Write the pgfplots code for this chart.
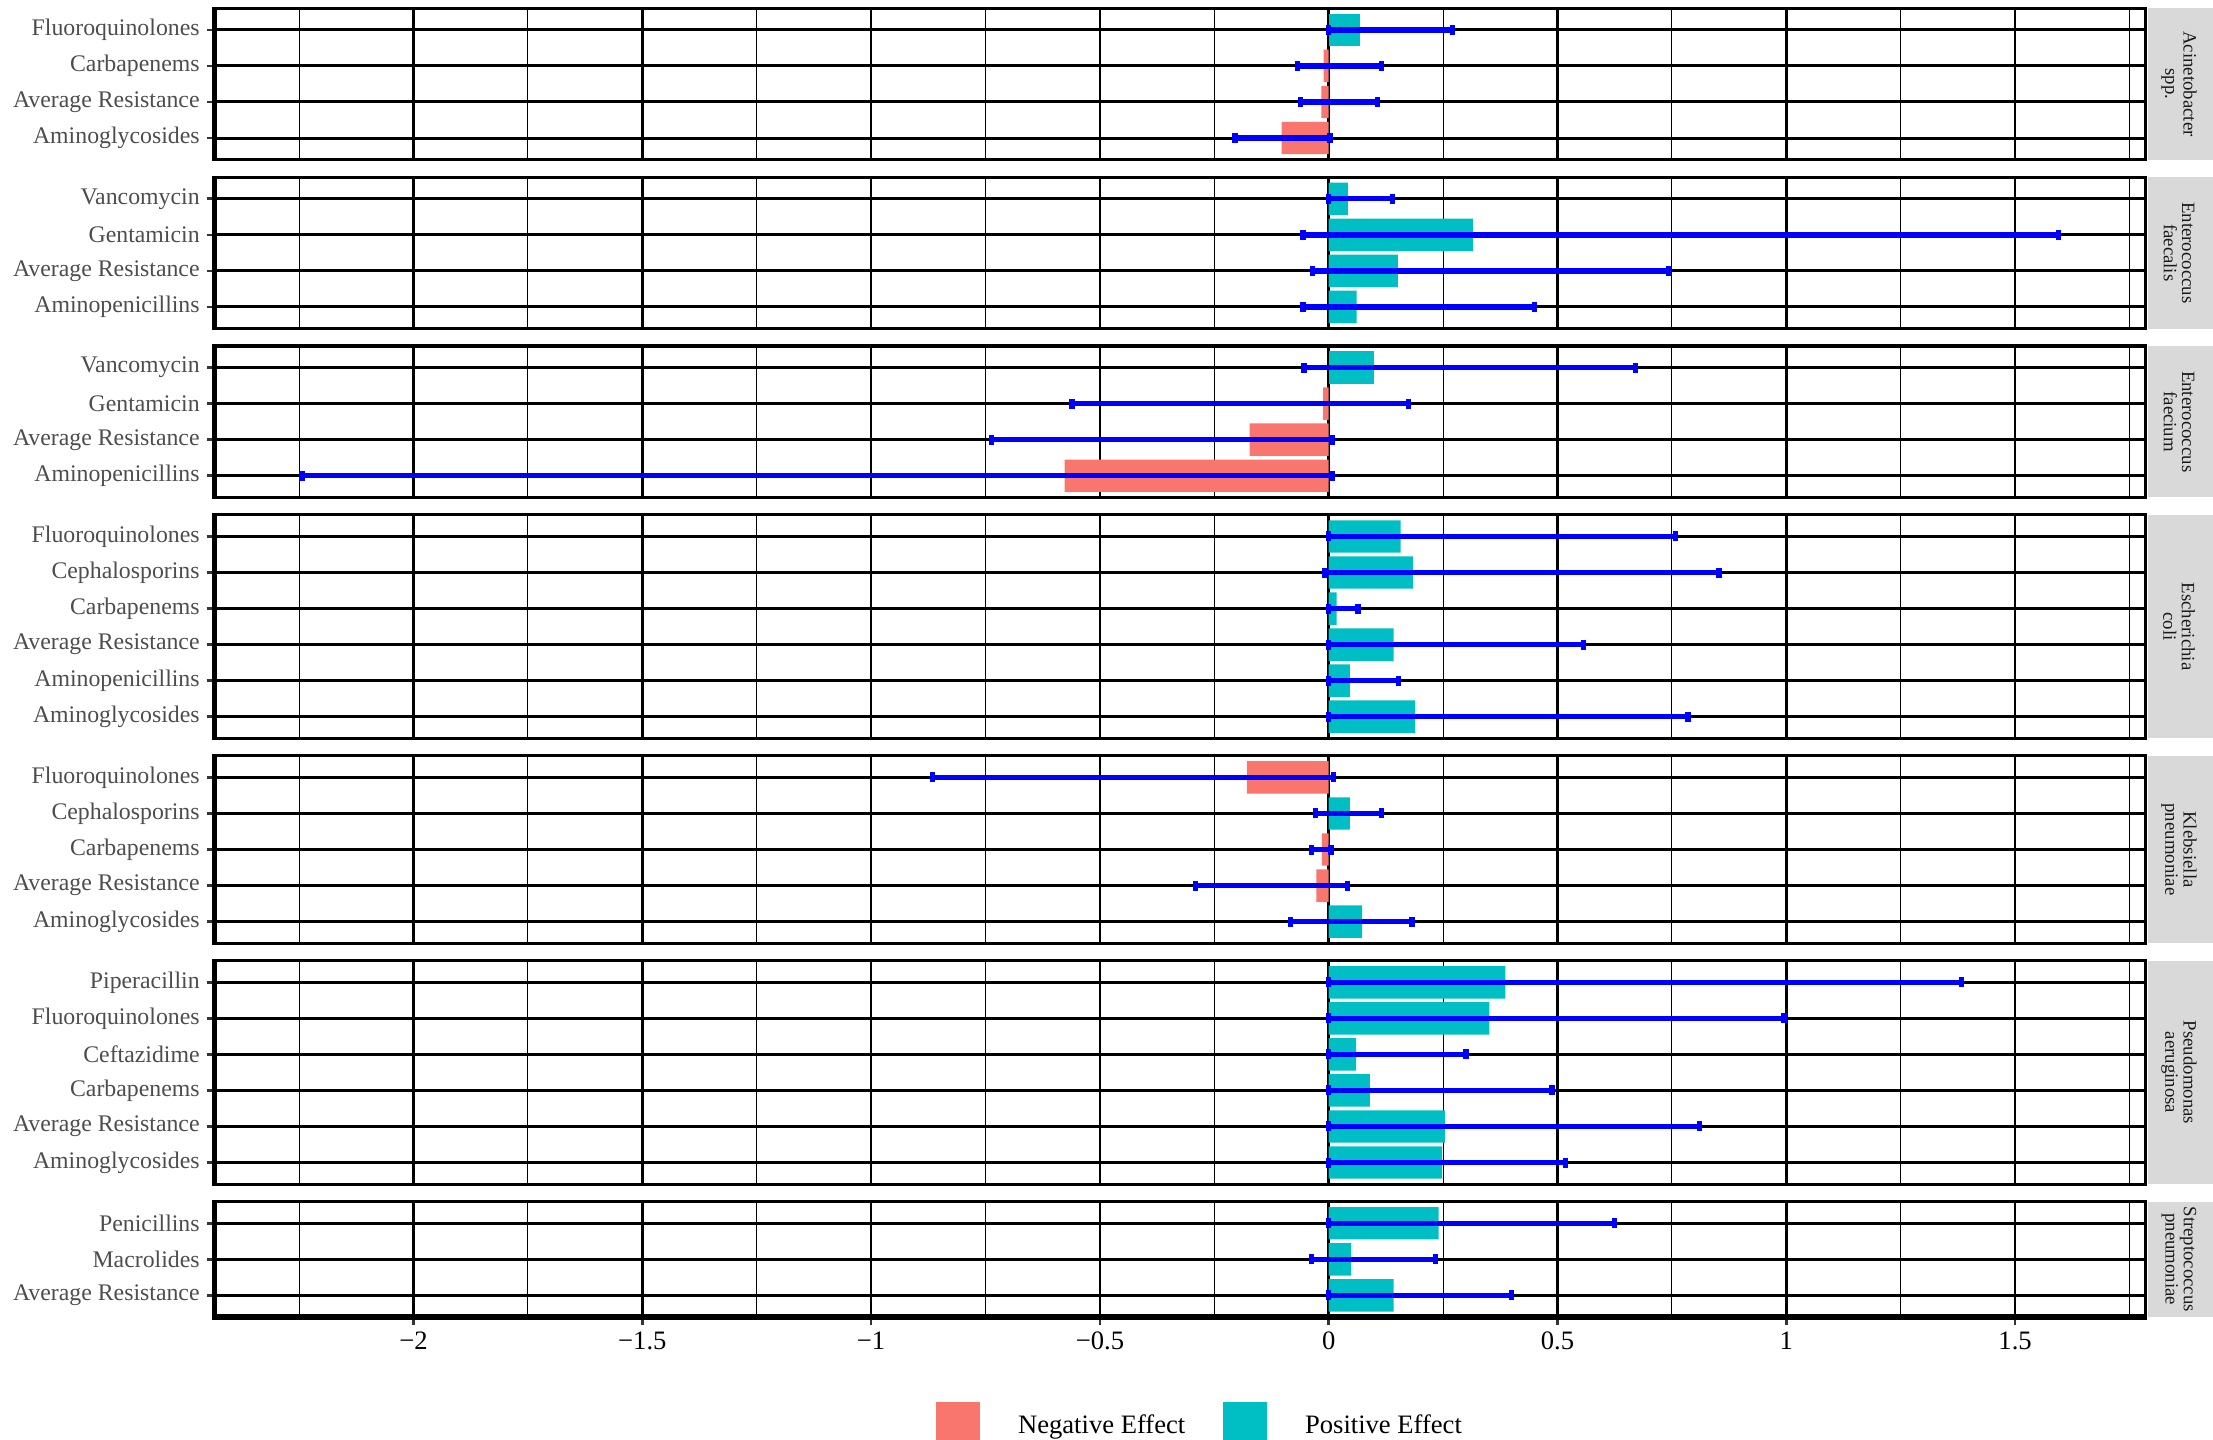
\documentclass[border=0pt]{standalone}
\usepackage{fontspec}
\setmainfont{Liberation Serif}
\usepackage{pgfplots}
\usepackage{pgfplotstable}
\pgfplotsset{compat=1.18}

\definecolor{negc}{HTML}{F8766D}
\definecolor{posc}{HTML}{00BFC4}
\definecolor{errc}{HTML}{0000FF}
\definecolor{stripc}{HTML}{D9D9D9}
\definecolor{striptext}{HTML}{1A1A1A}
\definecolor{labc}{HTML}{4D4D4D}
\definecolor{tickc}{HTML}{333333}

\newcommand\ylabfont{\fontsize{11.9}{13}\selectfont}
\newcommand\xtickfont{\fontsize{13.3}{15}\selectfont}
\newcommand\stripfont{\fontsize{9.4}{9.2}\selectfont}

% y = position (1 = bottom), val = effect, lo/hi = interval
\pgfplotstableread{
y val lo hi
4 0.068 0.000 0.271
3 -0.011 -0.068 0.116
2 -0.016 -0.061 0.106
1 -0.103 -0.205 0.003
}\tAcin
\pgfplotstableread{
y val lo hi
4 0.042 0.000 0.140
3 0.315 -0.056 1.594
2 0.151 -0.035 0.742
1 0.061 -0.056 0.449
}\tEfcl
\pgfplotstableread{
y val lo hi
4 0.100 -0.054 0.671
3 -0.012 -0.561 0.175
2 -0.173 -0.737 0.007
1 -0.577 -2.244 0.007
}\tEfcm
\pgfplotstableread{
y val lo hi
6 0.157 0.000 0.757
5 0.184 -0.010 0.853
4 0.017 0.000 0.064
3 0.142 0.000 0.556
2 0.046 0.000 0.152
1 0.189 0.000 0.785
}\tEcol
\pgfplotstableread{
y val lo hi
5 -0.179 -0.866 0.010
4 0.046 -0.029 0.115
3 -0.015 -0.037 0.005
2 -0.027 -0.292 0.041
1 0.073 -0.083 0.182
}\tKpne
\pgfplotstableread{
y val lo hi
6 0.386 0.000 1.383
5 0.351 0.000 0.995
4 0.060 0.000 0.300
3 0.090 0.000 0.488
2 0.254 0.000 0.810
1 0.248 0.000 0.517
}\tPaer
\pgfplotstableread{
y val lo hi
3 0.240 0.000 0.625
2 0.049 -0.037 0.234
1 0.142 0.000 0.400
}\tSpne

\pgfplotsset{
  panel/.style={
    scale only axis, width=965.5pt,
    xmin=-2.435, xmax=1.785,
    xtick={-2,-1.5,-1,-0.5,0,0.5,1,1.5},
    minor xtick={-2.25,-1.75,-1.25,-0.75,-0.25,0.25,0.75,1.25,1.75},
    xmajorgrids=true, xminorgrids=true, ymajorgrids=true,
    major x grid style={line width=1.3pt, black},
    minor x grid style={line width=0.55pt, black},
    major y grid style={line width=1.5pt, black},
    axis line style={line width=1.6pt, black},
    tick pos=left, tick align=outside,
    major tick length=3.9pt, minor tick length=0pt,
    ytick style={line width=1.3pt, color=tickc},
    yticklabel style={font=\ylabfont, text=labc},
    anchor=south west,
    clip=false,
  },
  inner/.style={xticklabels={}, xtick style={draw=none}},
}

\newcommand\drawpanel[1]{%
  \addplot[xbar, bar width=0.9, bar shift=0pt, fill=negc, draw=none,
    restrict x to domain=-10:0, forget plot] table[x=val, y=y] {#1};
  \addplot[xbar, bar width=0.9, bar shift=0pt, fill=posc, draw=none,
    restrict x to domain=0:10, forget plot] table[x=val, y=y] {#1};
  \addplot[draw=none, mark=none, forget plot,
    error bars/.cd, x dir=both, x explicit,
    error bar style={draw=errc, line width=2.7pt},
    error mark=|,
    error mark options={draw=errc, line width=2.6pt, mark size=2.5pt}]
    table[x expr={(\thisrow{lo}+\thisrow{hi})/2}, y=y,
          x error expr={(\thisrow{hi}-\thisrow{lo})/2}] {#1};
  \draw[line width=2.7pt, black, shorten <=-0.8pt, shorten >=-0.8pt]
    (rel axis cs:0,0) -- (rel axis cs:0,1);
}

\newcommand\strip[3]{% bottom, top, text
  \fill[stripc] (1074pt,#1) rectangle (1106.5pt,#2);
  \node[rotate=-90, align=center, font=\stripfont, text=striptext, inner sep=0pt]
    at (1089.5pt,{(#1+#2)/2}) {#3};
}

\begin{document}
\begin{tikzpicture}
\useasboundingbox (0,0) rectangle (1106.5pt,720pt);

% Acinetobacter spp.
\begin{axis}[panel, inner, at={(107.25pt,640.17pt)}, height=75.68pt,
  ymin=0.4, ymax=4.6, ytick={1,2,3,4},
  yticklabels={Aminoglycosides,Average Resistance,Carbapenems,Fluoroquinolones}]
\drawpanel{\tAcin}
\end{axis}

% Enterococcus faecalis
\begin{axis}[panel, inner, at={(107.25pt,555.74pt)}, height=75.68pt,
  ymin=0.4, ymax=4.6, ytick={1,2,3,4},
  yticklabels={Aminopenicillins,Average Resistance,Gentamicin,Vancomycin}]
\drawpanel{\tEfcl}
\end{axis}

% Enterococcus faecium
\begin{axis}[panel, inner, at={(107.25pt,471.31pt)}, height=75.68pt,
  ymin=0.4, ymax=4.6, ytick={1,2,3,4},
  yticklabels={Aminopenicillins,Average Resistance,Gentamicin,Vancomycin}]
\drawpanel{\tEfcm}
\end{axis}

% Escherichia coli
\begin{axis}[panel, inner, at={(107.25pt,350.84pt)}, height=111.72pt,
  ymin=0.4, ymax=6.6, ytick={1,2,3,4,5,6},
  yticklabels={Aminoglycosides,Aminopenicillins,Average Resistance,Carbapenems,Cephalosporins,Fluoroquinolones}]
\drawpanel{\tEcol}
\end{axis}

% Klebsiella pneumoniae
\begin{axis}[panel, inner, at={(107.25pt,248.39pt)}, height=93.70pt,
  ymin=0.4, ymax=5.6, ytick={1,2,3,4,5},
  yticklabels={Aminoglycosides,Average Resistance,Carbapenems,Cephalosporins,Fluoroquinolones}]
\drawpanel{\tKpne}
\end{axis}

% Pseudomonas aeruginosa
\begin{axis}[panel, inner, at={(107.25pt,127.92pt)}, height=111.72pt,
  ymin=0.4, ymax=6.6, ytick={1,2,3,4,5,6},
  yticklabels={Aminoglycosides,Average Resistance,Carbapenems,Ceftazidime,Fluoroquinolones,Piperacillin}]
\drawpanel{\tPaer}
\end{axis}

% Streptococcus pneumoniae
\begin{axis}[panel, at={(107.25pt,61.51pt)}, height=57.66pt,
  ymin=0.4, ymax=3.6, ytick={1,2,3},
  yticklabels={Average Resistance,Macrolides,Penicillins},
  xticklabels={−2,−1.5,−1,−0.5,0,0.5,1,1.5},
  xticklabel style={font=\xtickfont, text=black},
  xtick style={line width=1.3pt, color=tickc},
  legend columns=2,
  legend style={at={(0.3736,-0.929)}, anchor=west, draw=none, fill=none,
    inner sep=0pt, column sep=17pt, font=\xtickfont},
  ]
\addlegendimage{legend image code/.code={\fill[negc] (0pt,-9.9pt) rectangle (21.5pt,11.6pt);}}
\addlegendentry{Negative Effect}
\addlegendimage{legend image code/.code={\fill[posc] (0pt,-9.9pt) rectangle (21.5pt,11.6pt);}}
\addlegendentry{Positive Effect}
\drawpanel{\tSpne}
\draw[line width=2.7pt, black, shorten <=-1.35pt, shorten >=-0.8pt]
  (rel axis cs:0,0) -- (rel axis cs:1,0);
\end{axis}

\strip{640.17pt}{715.85pt}{Acinetobacter\\spp.}
\strip{555.74pt}{631.42pt}{Enterococcus\\faecalis}
\strip{471.31pt}{546.99pt}{Enterococcus\\faecium}
\strip{350.84pt}{462.56pt}{Escherichia\\coli}
\strip{248.39pt}{342.09pt}{Klebsiella\\pneumoniae}
\strip{127.92pt}{239.64pt}{Pseudomonas\\aeruginosa}
\strip{61.51pt}{119.17pt}{Streptococcus\\pneumoniae}
\end{tikzpicture}
\end{document}
